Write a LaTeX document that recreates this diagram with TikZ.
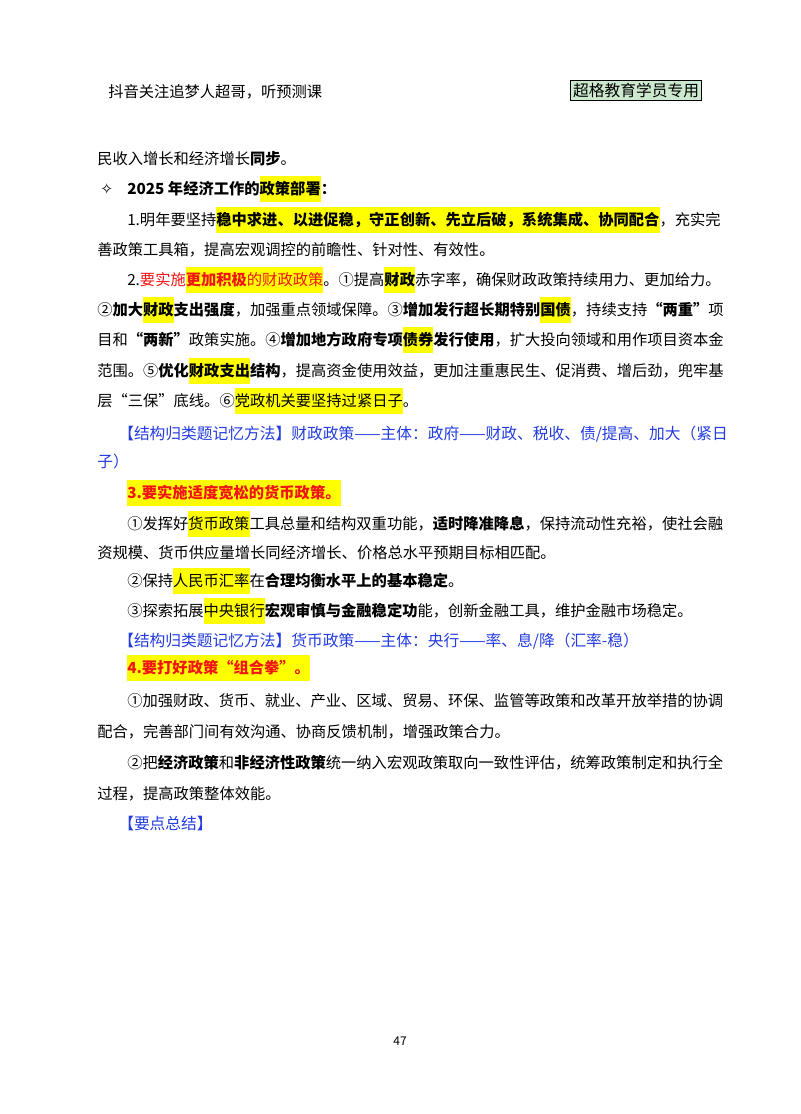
\documentclass[tikz,border=0pt]{standalone}
\usepackage{fontspec}
\setmainfont{Noto Sans CJK SC}
\newfontfamily\symfont{DejaVu Sans}
\definecolor{hlyel}{RGB}{255,255,0}
\definecolor{bluetxt}{RGB}{35,60,225}
\definecolor{redtxt}{RGB}{240,20,20}
\definecolor{boxgreen}{RGB}{204,232,207}
\newcommand\hl[1]{{\setlength\fboxsep{0pt}\colorbox{hlyel}{\rule[-0.5em]{0pt}{1.65em}#1}}}
\tikzset{ln/.style={anchor=base west,inner sep=0pt,font=\fontsize{11.46}{14}\selectfont},
 bl/.style={anchor=base west,inner sep=0pt,text=bluetxt,font=\fontsize{11.8}{14}\selectfont}}
\begin{document}
\begin{tikzpicture}[x=0.75pt,y=-0.75pt]
\useasboundingbox (0,0) rectangle (800,1114);
\fill[white] (0,0) rectangle (800,1114);
\node[ln] (h1) at (108,97) {抖音关注追梦人超哥，听预测课};
\node[draw=black,fill=boxgreen,inner sep=2pt,font=\fontsize{11.8}{14}\selectfont,anchor=east] (h2) at (702,90) {超格教育学员专用};
\node[ln] (l1) at (97,164) {民收入增长和经济增长\textbf{同步}。};
\node[ln] (s) at (100,194) {\symfont ✧};
\node[ln] (l2) at (127,194) {\textbf{2025 年经济工作的\hl{政策部署}：}};
\node[ln] (l3) at (127,225) {1.明年要坚持\hl{\textbf{稳中求进、以进促稳，守正创新、先立后破，系统集成、协同配合}}，充实完};
\node[ln] (l4) at (97,255) {善政策工具箱，提高宏观调控的前瞻性、针对性、有效性。};
\node[ln] (l5) at (127,285) {2.\textcolor{redtxt}{要实施\hl{\textbf{更加积极}的财政政策}}。①提高\hl{\textbf{财政}}赤字率，确保财政政策持续用力、更加给力。};
\node[ln] (l6) at (97,315) {②\textbf{加大\hl{财政}支出强度}，加强重点领域保障。③\textbf{增加发行超长期特别\hl{国债}}，持续支持\textbf{“两重”}项};
\node[ln] (l7) at (97,345) {目和\textbf{“两新”}政策实施。④\textbf{增加地方政府专项\hl{债券}发行使用}，扩大投向领域和用作项目资本金};
\node[ln] (l8) at (97,376) {范围。⑤\textbf{优化\hl{财政支出}结构}，提高资金使用效益，更加注重惠民生、促消费、增后劲，兜牢基};
\node[ln] (l9) at (97,406) {层“三保”底线。⑥\hl{党政机关要坚持过紧日子}。};
\node[bl] (b1) at (118,439) {【结构归类题记忆方法】财政政策——主体：政府——财政、税收、债/提高、加大（紧日};
\node[bl] (b2) at (97,467) {子）};
\node[ln] (l10) at (127,498) {\hl{\textcolor{redtxt}{\textbf{3.要实施适度宽松的货币政策。}}}};
\node[ln] (l11) at (127,529) {①发挥好\hl{货币政策}工具总量和结构双重功能，\textbf{适时降准降息}，保持流动性充裕，使社会融};
\node[ln] (l12) at (97,558) {资规模、货币供应量增长同经济增长、价格总水平预期目标相匹配。};
\node[ln] (l13) at (127,586) {②保持\hl{人民币汇率}在\textbf{合理均衡水平上的基本稳定}。};
\node[ln] (l14) at (127,616) {③探索拓展\hl{中央银行}\textbf{宏观审慎与金融稳定功}能，创新金融工具，维护金融市场稳定。};
\node[bl] (b3) at (118,646) {【结构归类题记忆方法】货币政策——主体：央行——率、息/降（汇率-稳）};
\node[ln] (l15) at (127,673) {\hl{\textcolor{redtxt}{\textbf{4.要打好政策“组合拳”。}}}};
\node[ln] (l16) at (127,706) {①加强财政、货币、就业、产业、区域、贸易、环保、监管等政策和改革开放举措的协调};
\node[ln] (l17) at (97,737) {配合，完善部门间有效沟通、协商反馈机制，增强政策合力。};
\node[ln] (l18) at (127,768) {②把\textbf{经济政策}和\textbf{非经济性政策}统一纳入宏观政策取向一致性评估，统筹政策制定和执行全};
\node[ln] (l19) at (97,799) {过程，提高政策整体效能。};
\node[bl] (b4) at (118,829) {【要点总结】};
\node[font=\fontsize{9}{11}\selectfont] (pg) at (400,1041) {47};
\end{tikzpicture}
\end{document}
